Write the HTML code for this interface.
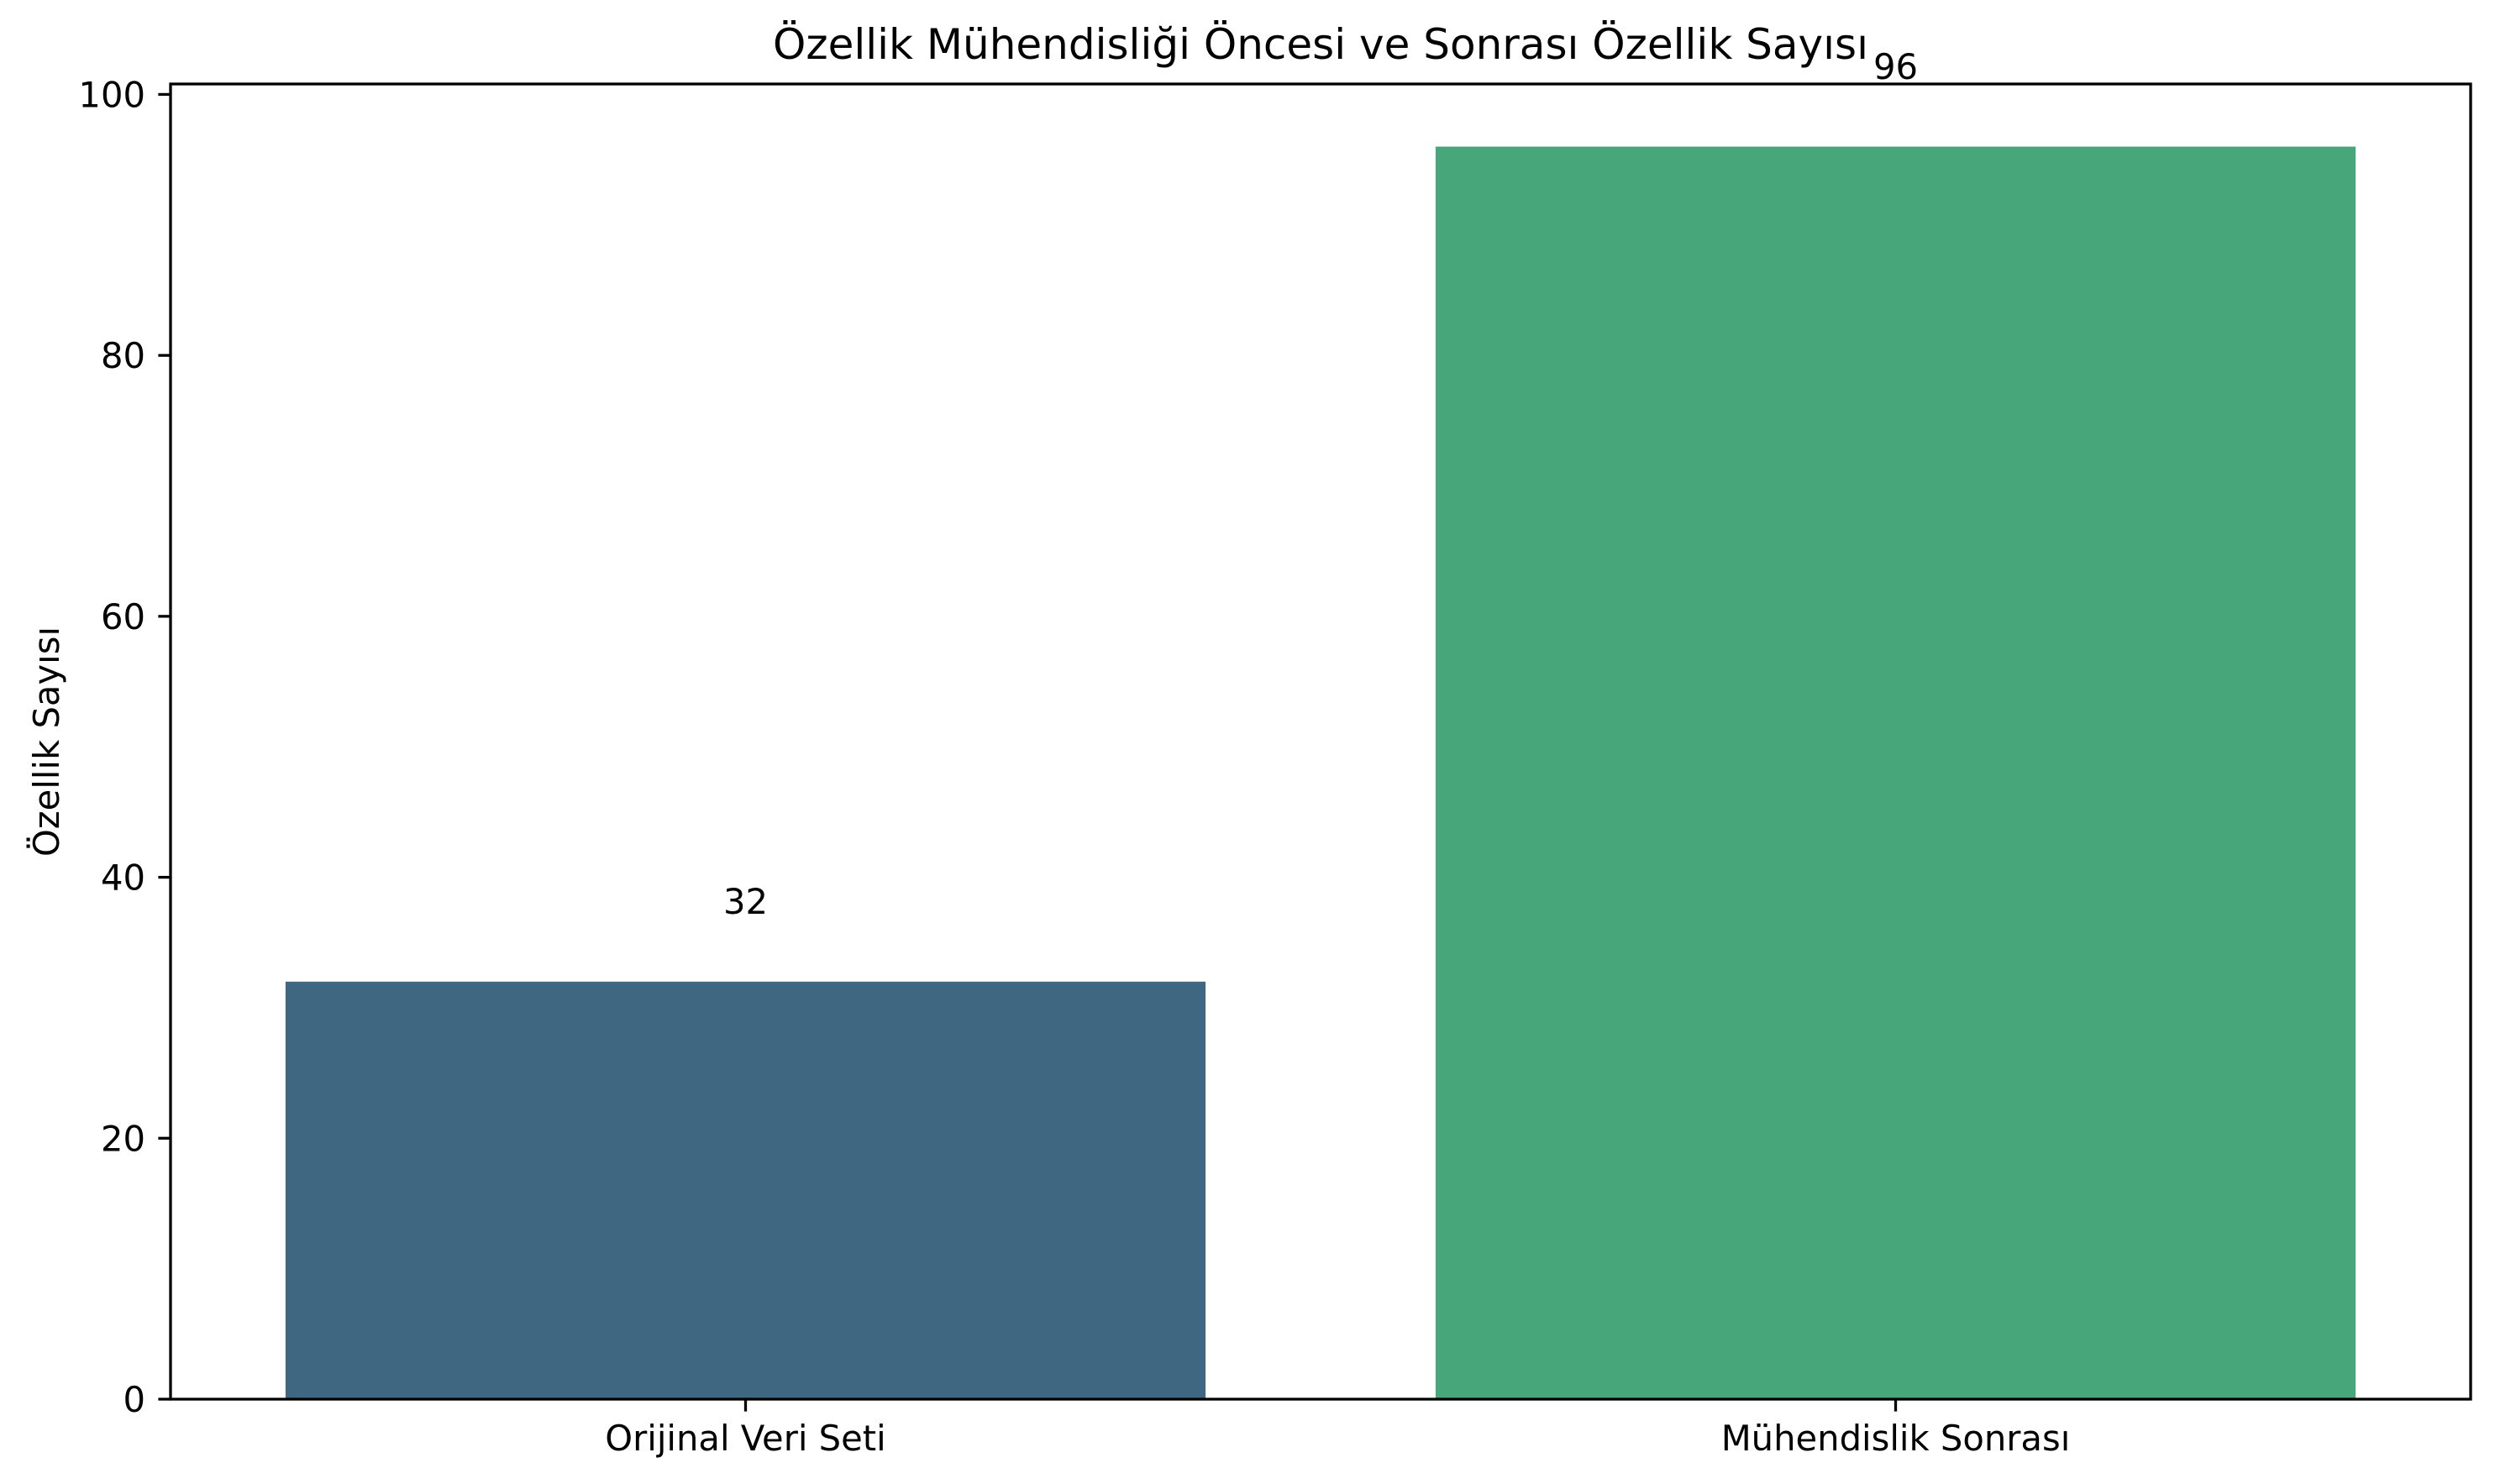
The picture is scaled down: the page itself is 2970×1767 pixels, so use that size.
<!DOCTYPE html>
<html><head><meta charset="utf-8"><style>
html,body{margin:0;padding:0;background:#fff;}
svg{display:block;font-family:"DejaVu Sans","Liberation Sans",sans-serif;}
</style></head><body>
<svg id="chart" width="2970" height="1767" viewBox="0 0 2970 1767" xmlns="http://www.w3.org/2000/svg">
<rect width="2970" height="1767" fill="#fff"/>
<g id="marks"></g>
<g id="axes"></g>
<text x="1572" y="70" font-size="50" text-anchor="middle" fill="#000">Özellik Mühendisliği Öncesi ve Sonrası Özellik Sayısı</text>
<text transform="translate(70,883) rotate(-90)" font-size="41.7" text-anchor="middle" fill="#000">Özellik Sayısı</text>
</svg>
<script>
const categories = ["Orijinal Veri Seti", "Mühendislik Sonrası"];
const values = [32, 96];
const colors = ["#3f6782", "#47a77a"];
const yTicks = [0, 20, 40, 60, 80, 100];

const L = 203, R = 2941, T = 100, B = 1666;
const xMin = -0.5, xMax = 1.5, yMin = 0, yMax = 100.8;
const xScale = v => L + (v - xMin) / (xMax - xMin) * (R - L);
const yScale = v => B - (v - yMin) / (yMax - yMin) * (B - T);
const NS = "http://www.w3.org/2000/svg";
const marks = document.getElementById('marks');
const axes = document.getElementById('axes');
function mk(tag, attrs, parent) {
  const e = document.createElementNS(NS, tag);
  for (const k in attrs) e.setAttribute(k, attrs[k]);
  parent.appendChild(e);
  return e;
}
categories.forEach((c, i) => {
  const x0 = xScale(i - 0.4), x1 = xScale(i + 0.4);
  const r = mk('rect', {x: x0, y: yScale(values[i]), width: x1 - x0, height: yScale(0) - yScale(values[i]), fill: colors[i]}, marks);
  
  
  const t = mk('text', {x: xScale(i), y: yScale(values[i] + 5) - 3, 'font-size': 41.7, 'text-anchor': 'middle', fill: '#000'}, marks);
  t.textContent = values[i];
  
  
  const tk = mk('line', {x1: xScale(i), x2: xScale(i), y1: B, y2: B + 14.6, stroke: '#000', 'stroke-width': 3.3}, axes);
  
  
  const tl = mk('text', {x: xScale(i), y: B + 61, 'font-size': 41.7, 'text-anchor': 'middle', fill: '#000'}, axes);
  tl.textContent = c;
  
  
});
yTicks.forEach(v => {
  const y = yScale(v);
  const tk = mk('line', {x1: L - 14.6, x2: L, y1: y, y2: y, stroke: '#000', 'stroke-width': 3.3}, axes);
  
  
  const tl = mk('text', {x: L - 30, y: y + 15, 'font-size': 41.7, 'text-anchor': 'end', fill: '#000'}, axes);
  tl.textContent = v;
  
  
});
const frame = mk('rect', {x: L, y: T, width: R - L, height: B - T, fill: 'none', stroke: '#000', 'stroke-width': 3.3}, axes);


</script>
</body></html>
